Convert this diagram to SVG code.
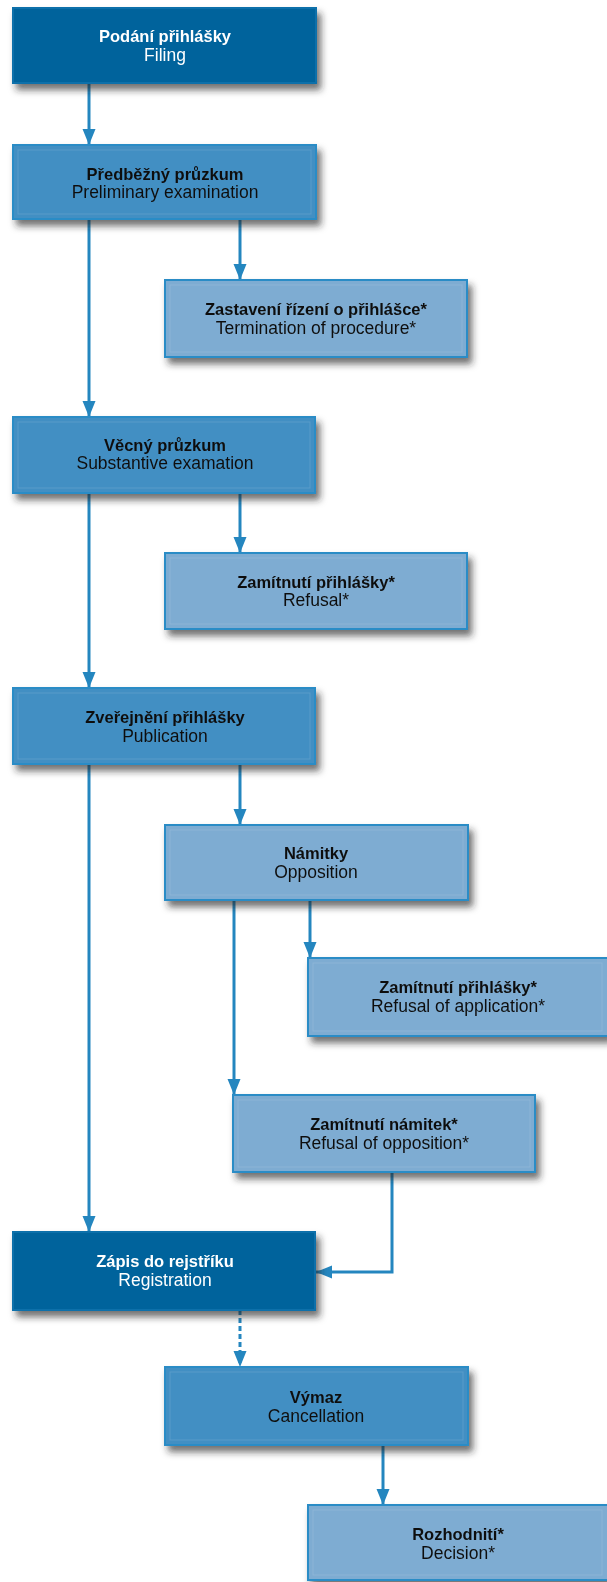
<svg xmlns="http://www.w3.org/2000/svg" width="607" height="1582" viewBox="0 0 607 1582">
<defs>
<style>
.box{stroke:#2a8cc6;stroke-width:2}
.dark{fill:#00639c;stroke:#0a70aa}
.mid{fill:#438fc3}
.light{fill:#7eacd2}
.inner{fill:none;stroke:#ffffff;stroke-opacity:0.12;stroke-width:1}
.t{font-family:"Liberation Sans",Arial,sans-serif;text-anchor:middle;fill:#111}
.b{font-weight:bold;font-size:16.5px}
.r{font-size:17.5px}
.w{fill:#ffffff}
.c{fill:none;stroke:#2486bf;stroke-width:3}
.dash{stroke-dasharray:5 3}
</style>
<filter id="sh" x="-10%" y="-20%" width="125%" height="150%">
<feDropShadow dx="4" dy="6" stdDeviation="3.5" flood-color="#222222" flood-opacity="0.65"/>
</filter>
<marker id="ah" markerUnits="userSpaceOnUse" markerWidth="16" markerHeight="14" viewBox="0 0 16 14" refX="16" refY="7" orient="auto">
<path d="M0,0.5 L16,7 L0,13.5 Z" fill="#2486bf"/>
</marker>
</defs>

<g id="connectors">
<line class="c" x1="89" y1="83" x2="89" y2="145" marker-end="url(#ah)"/>
<line class="c" x1="240" y1="219" x2="240" y2="280" marker-end="url(#ah)"/>
<line class="c" x1="89" y1="219" x2="89" y2="417" marker-end="url(#ah)"/>
<line class="c" x1="240" y1="493" x2="240" y2="553" marker-end="url(#ah)"/>
<line class="c" x1="89" y1="493" x2="89" y2="688" marker-end="url(#ah)"/>
<line class="c" x1="240" y1="764" x2="240" y2="825" marker-end="url(#ah)"/>
<line class="c" x1="89" y1="764" x2="89" y2="1232" marker-end="url(#ah)"/>
<line class="c" x1="310" y1="900" x2="310" y2="958" marker-end="url(#ah)"/>
<line class="c" x1="234" y1="900" x2="234" y2="1095" marker-end="url(#ah)"/>
<polyline class="c" points="392,1172 392,1272 316,1272" marker-end="url(#ah)"/>
<line class="c dash" x1="240" y1="1310" x2="240" y2="1367" marker-end="url(#ah)"/>
<line class="c" x1="383" y1="1445" x2="383" y2="1505" marker-end="url(#ah)"/>
</g>

<g id="filing" filter="url(#sh)">
<rect class="box dark" x="13" y="8" width="303" height="75"/>
<text class="t b w" x="165" y="42">Podání přihlášky</text>
<text class="t r w" x="165" y="61">Filing</text>
</g>

<g id="preliminary" filter="url(#sh)">
<rect class="box mid" x="13" y="145" width="303" height="74"/>
<rect class="inner" x="18" y="150" width="293" height="64"/>
<text class="t b" x="165" y="180">Předběžný průzkum</text>
<text class="t r" x="165" y="198">Preliminary examination</text>
</g>

<g id="termination" filter="url(#sh)">
<rect class="box light" x="165" y="280" width="302" height="77"/>
<rect class="inner" x="170" y="285" width="292" height="67"/>
<text class="t b" x="316" y="315">Zastavení řízení o přihlášce*</text>
<text class="t r" x="316" y="334">Termination of procedure*</text>
</g>

<g id="substantive" filter="url(#sh)">
<rect class="box mid" x="13" y="417" width="302" height="76"/>
<rect class="inner" x="18" y="422" width="292" height="66"/>
<text class="t b" x="165" y="451">Věcný průzkum</text>
<text class="t r" x="165" y="469">Substantive examation</text>
</g>

<g id="refusal" filter="url(#sh)">
<rect class="box light" x="165" y="553" width="302" height="76"/>
<rect class="inner" x="170" y="558" width="292" height="66"/>
<text class="t b" x="316" y="588">Zamítnutí přihlášky*</text>
<text class="t r" x="316" y="606">Refusal*</text>
</g>

<g id="publication" filter="url(#sh)">
<rect class="box mid" x="13" y="688" width="302" height="76"/>
<rect class="inner" x="18" y="693" width="292" height="66"/>
<text class="t b" x="165" y="723">Zveřejnění přihlášky</text>
<text class="t r" x="165" y="742">Publication</text>
</g>

<g id="opposition" filter="url(#sh)">
<rect class="box light" x="165" y="825" width="303" height="75"/>
<rect class="inner" x="170" y="830" width="293" height="65"/>
<text class="t b" x="316" y="859">Námitky</text>
<text class="t r" x="316" y="878">Opposition</text>
</g>

<g id="refusal-application" filter="url(#sh)">
<rect class="box light" x="308" y="958" width="300" height="78"/>
<rect class="inner" x="313" y="963" width="289" height="68"/>
<text class="t b" x="458" y="993">Zamítnutí přihlášky*</text>
<text class="t r" x="458" y="1012">Refusal of application*</text>
</g>

<g id="refusal-opposition" filter="url(#sh)">
<rect class="box light" x="233" y="1095" width="302" height="77"/>
<rect class="inner" x="238" y="1100" width="292" height="67"/>
<text class="t b" x="384" y="1130">Zamítnutí námitek*</text>
<text class="t r" x="384" y="1149">Refusal of opposition*</text>
</g>

<g id="registration" filter="url(#sh)">
<rect class="box dark" x="13" y="1232" width="302" height="78"/>
<text class="t b w" x="165" y="1267">Zápis do rejstříku</text>
<text class="t r w" x="165" y="1286">Registration</text>
</g>

<g id="cancellation" filter="url(#sh)">
<rect class="box mid" x="165" y="1367" width="303" height="78"/>
<rect class="inner" x="170" y="1372" width="293" height="68"/>
<text class="t b" x="316" y="1403">Výmaz</text>
<text class="t r" x="316" y="1422">Cancellation</text>
</g>

<g id="decision" filter="url(#sh)">
<rect class="box light" x="308" y="1505" width="300" height="75"/>
<rect class="inner" x="313" y="1510" width="289" height="65"/>
<text class="t b" x="458" y="1540">Rozhodnití*</text>
<text class="t r" x="458" y="1559">Decision*</text>
</g>
</svg>
